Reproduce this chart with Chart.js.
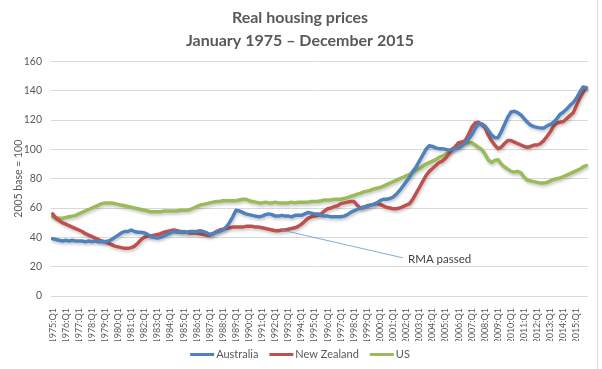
<!DOCTYPE html>
<html>
<head>
<meta charset="utf-8">
<script src="https://cdn.jsdelivr.net/npm/chart.js@4.4.1/dist/chart.umd.min.js"></script>
<style>
  html, body { margin: 0; padding: 0; background: #ffffff; }
  #wrap { position: relative; width: 602px; height: 369px; }
</style>
</head>
<body>
<div id="wrap"><canvas id="c"></canvas></div>
<script>
// ---- Data ----
const START_YEAR = 1975;
const END_YEAR = 2015;
const QUARTERS = ['Q1', 'Q2', 'Q3', 'Q4'];
const TITLE_LINES = ['Real housing prices', 'January 1975 \u2013 December 2015'];
const Y_TICKS = [0, 20, 40, 60, 80, 100, 120, 140, 160];
const SERIES_NAMES = ['Australia', 'New Zealand', 'US'];

const australia = [
  39, 38.5, 38, 37.5,     // 1975
  38, 37.5, 38, 37.5,     // 1976
  37.5, 37.5, 37, 37.5,   // 1977
  37, 37.5, 37, 37,       // 1978
  37, 37.5, 38.5, 40,     // 1979
  41.5, 43, 44, 44,       // 1980
  45, 44, 43.5, 43.5,     // 1981
  43, 42, 40.5, 40,       // 1982
  39.5, 40, 41, 42,       // 1983
  43, 44, 43.5, 43.5,     // 1984
  44, 43.5, 44, 44,       // 1985
  44, 44.5, 44, 43,       // 1986
  42, 42.5, 43.5, 44,     // 1987
  45, 47, 50, 54,         // 1988
  58.5, 58, 57, 56,       // 1989
  55.5, 55, 54.5, 54,     // 1990
  54.5, 55.5, 56, 55.5,   // 1991
  54.5, 54.5, 55, 54.5,   // 1992
  54.5, 54, 55, 55,       // 1993
  55, 56, 57, 56.5,       // 1994
  56, 56, 55, 54.5,       // 1995
  54.5, 54, 54, 54,       // 1996
  54, 54.5, 55.5, 57,     // 1997
  58, 59, 60, 60.5,       // 1998
  61, 62, 62.5, 63.5,     // 1999
  65, 66, 66, 66.5,       // 2000
  67.5, 69.5, 72, 75,     // 2001
  78, 81, 85, 88,         // 2002
  92, 96, 100, 102.5,     // 2003
  102, 101, 100.5, 100.5, // 2004
  100, 99.5, 100, 100.5,  // 2005
  101, 102.5, 104.5, 107, // 2006
  110, 114, 117.5, 117.5, // 2007
  116, 113, 110, 108,     // 2008
  108, 112, 117, 122,     // 2009
  125.5, 126, 125, 123.5, // 2010
  121, 118.5, 116.5, 115.5, // 2011
  115, 114.5, 114.5, 116, // 2012
  117, 118.5, 121, 124,   // 2013
  125.5, 127.5, 130, 132, // 2014
  135, 139, 142.5, 142    // 2015
];

const newZealand = [
  56, 53, 51.5, 50,       // 1975
  49, 48, 47, 46,         // 1976
  45, 44, 42.5, 41.5,     // 1977
  40.5, 39.5, 38.5, 37.5, // 1978
  37, 36, 35, 34,         // 1979
  33.5, 33, 32.5, 32.5,   // 1980
  33, 34, 36, 38.5,       // 1981
  40, 41, 41, 41.5,       // 1982
  42, 42.5, 43.5, 44,     // 1983
  44.5, 45, 44.5, 44,     // 1984
  43.5, 43.5, 43, 43,     // 1985
  43, 42.5, 42, 41.5,     // 1986
  41.5, 42.5, 44, 45,     // 1987
  45.5, 46, 46.5, 47,     // 1988
  47, 47, 47, 47.5,       // 1989
  47.5, 47.5, 47, 47,     // 1990
  46.5, 46, 45.5, 45,     // 1991
  44.5, 44.5, 45, 45,     // 1992
  45.5, 46, 46.5, 47.5,   // 1993
  49, 51, 53, 54,         // 1994
  54.5, 55, 56, 58,       // 1995
  59.5, 60, 61, 61.5,     // 1996
  63, 63.5, 64, 64.5,     // 1997
  64.5, 62, 60, 60.5,     // 1998
  61.5, 62, 62.5, 63,     // 1999
  62.5, 61.5, 60.5, 60,   // 2000
  59.5, 59.5, 60, 61,     // 2001
  62, 63, 66, 70,         // 2002
  74, 78, 82, 85,         // 2003
  87, 89, 91, 92,         // 2004
  94, 97, 100, 102,       // 2005
  104.5, 105, 106, 110,   // 2006
  115, 118, 118.5, 117,   // 2007
  115, 110, 106, 103,     // 2008
  100.5, 101.5, 104, 106, // 2009
  106, 105, 104, 103,     // 2010
  102, 101.5, 102, 103,   // 2011
  103, 104, 106, 109,     // 2012
  112, 116, 118, 118.5,   // 2013
  119, 121, 123, 125,     // 2014
  130, 135, 139, 142      // 2015
];

const us = [
  54, 53.5, 53, 53,       // 1975
  53.5, 54, 54.5, 55,     // 1976
  56, 57, 58, 59,         // 1977
  60, 61, 62, 63,         // 1978
  63.5, 63.5, 63.5, 63,   // 1979
  62.5, 62, 61.5, 61,     // 1980
  60.5, 60, 59.5, 59,     // 1981
  58.5, 58, 57.5, 57.5,   // 1982
  57.5, 57.5, 58, 58,     // 1983
  58, 58, 58, 58.5,       // 1984
  58.5, 58.5, 59, 60,     // 1985
  61, 62, 62.5, 63,       // 1986
  63.5, 64, 64.5, 64.5,   // 1987
  65, 65, 65, 65,         // 1988
  65, 65.5, 66, 66,       // 1989
  65, 64.5, 64, 63.5,     // 1990
  63.5, 64, 63.5, 63.5,   // 1991
  64, 63.5, 63.5, 63.5,   // 1992
  63.5, 64, 63.5, 64,     // 1993
  64, 64, 64, 64.5,       // 1994
  64.5, 64.5, 65, 65.5,   // 1995
  65.5, 65.5, 66, 66,     // 1996
  66, 66.5, 67, 68,       // 1997
  68.5, 69.5, 70, 71,     // 1998
  71.5, 72, 73, 73.5,     // 1999
  74, 75, 76, 77,         // 2000
  78, 79, 80, 81,         // 2001
  82, 83, 84.5, 86,       // 2002
  87, 88.5, 90, 91,       // 2003
  92, 93, 94.5, 95.5,     // 2004
  96.5, 98, 100, 101,     // 2005
  102, 103.5, 104.5, 104.5, // 2006
  104.5, 103, 101.5, 100, // 2007
  97, 93, 91, 92.5,       // 2008
  93, 90, 88, 86.5,       // 2009
  85, 84.5, 85, 84,       // 2010
  81, 79, 78.5, 78,       // 2011
  77.5, 77, 77, 77.5,     // 2012
  78.5, 79.5, 80, 80.5,   // 2013
  81.5, 82.5, 83.5, 84.5, // 2014
  85.5, 86.5, 88, 89      // 2015
];

// Annotation: "RMA passed", pointing at the NZ series
const ANNOT_TEXT = 'RMA passed';
const ANNOT_POINT_INDEX = 70;     // 1992:Q3
const ANNOT_END_INDEX = 107;      // category where the leader line ends
const ANNOT_END_VALUE = 26;       // value where the leader line ends

// ---- Build categories ----
const categories = [];
for (let y = START_YEAR; y <= END_YEAR; y++) {
  for (const q of QUARTERS) categories.push(y + ':' + q);
}

const FONT = 'Lato, "Open Sans", sans-serif';
const TXT = '#595959';
const COLORS = ['#4F81BD', '#C0504D', '#9BBB59'];
const seriesData = [australia, newZealand, us];

const shadowPlugin = {
  id: 'shadow',
  beforeDatasetDraw(chart) {
    const ctx = chart.ctx;
    ctx.save();
    ctx.shadowColor = 'rgba(0,0,0,0.22)';
    ctx.shadowBlur = 3;
    ctx.shadowOffsetX = 1;
    ctx.shadowOffsetY = 2;
  },
  afterDatasetDraw(chart) {
    chart.ctx.restore();
  }
};

const annotPlugin = {
  id: 'annot',
  afterDatasetsDraw(chart) {
    const ctx = chart.ctx;
    const xs = chart.scales.x, ys = chart.scales.y;
    const x1 = xs.getPixelForValue(ANNOT_POINT_INDEX);
    const y1 = ys.getPixelForValue(newZealand[ANNOT_POINT_INDEX]);
    const x2 = xs.getPixelForValue(ANNOT_END_INDEX);
    const y2 = ys.getPixelForValue(ANNOT_END_VALUE);
    ctx.save();
    ctx.strokeStyle = '#5B9BD5';
    ctx.lineWidth = 0.8;
    ctx.beginPath();
    ctx.moveTo(x1, y1);
    ctx.lineTo(x2, y2);
    ctx.stroke();
    ctx.fillStyle = '#404040';
    ctx.font = '11.5px ' + FONT;
    ctx.textBaseline = 'middle';
    ctx.textAlign = 'left';
    ctx.fillText(ANNOT_TEXT, x2 + 5, y2 + 1);
    ctx.restore();
  }
};

// Custom legend drawn at the bottom (line swatch close to the label, like Excel)
const legendPlugin = {
  id: 'xlLegend',
  afterDraw(chart) {
    const ctx = chart.ctx;
    ctx.save();
    ctx.font = '11px ' + FONT;
    const sw = 24, gapText = 2, gapItem = 11;
    const items = chart.data.datasets.map(ds => ({
      label: ds.label, color: ds.borderColor, w: sw + gapText + ctx.measureText(ds.label).width
    }));
    const total = items.reduce((s, it) => s + it.w, 0) + gapItem * (items.length - 1);
    let x = 300 - total / 2;
    const y = 354.5;
    ctx.textBaseline = 'middle';
    ctx.textAlign = 'left';
    items.forEach(it => {
      ctx.strokeStyle = it.color;
      ctx.lineWidth = 3;
      ctx.beginPath();
      ctx.moveTo(x, y);
      ctx.lineTo(x + sw, y);
      ctx.stroke();
      ctx.fillStyle = TXT;
      ctx.fillText(it.label, x + sw + gapText, y);
      x += it.w + gapItem;
    });
    // right chart border like Excel
    ctx.strokeStyle = '#d9d9d9';
    ctx.lineWidth = 1;
    ctx.beginPath();
    ctx.moveTo(597.5, 0);
    ctx.lineTo(597.5, chart.height);
    ctx.stroke();
    ctx.restore();
  }
};

new Chart(document.getElementById('c'), {
  type: 'line',
  data: {
    labels: categories,
    datasets: SERIES_NAMES.map((name, i) => ({
      label: name,
      data: seriesData[i],
      borderColor: COLORS[i],
      backgroundColor: COLORS[i],
      borderWidth: 3.5,
      pointRadius: 0,
      pointHoverRadius: 0,
      tension: 0,
      fill: false,
      borderJoinStyle: 'round',
      borderCapStyle: 'round'
    }))
  },
  options: {
    responsive: true,
    maintainAspectRatio: false,
    animation: false,
    devicePixelRatio: 1,
    layout: { padding: { left: 12, right: 14, top: 0, bottom: 28 } },
    plugins: {
      tooltip: { enabled: false },
      legend: { display: false },
      title: {
        display: true,
        text: TITLE_LINES,
        color: TXT,
        font: { family: FONT, size: 16, weight: 'bold', lineHeight: 1.45 },
        padding: { top: 6, bottom: 9 }
      }
    },
    scales: {
      x: {
        type: 'category',
        offset: true,
        grid: { display: false },
        border: { display: false },
        afterFit(scale) { scale.height = 45; },
        ticks: {
          autoSkip: false,
          maxRotation: 90,
          minRotation: 90,
          color: TXT,
          padding: 4,
          font: { family: FONT, size: 9 },
          callback(value, index) {
            return index % 4 === 0 ? this.getLabelForValue(value) : '';
          }
        }
      },
      y: {
        min: Y_TICKS[0],
        max: Y_TICKS[Y_TICKS.length - 1],
        afterBuildTicks(scale) { scale.ticks = Y_TICKS.map(v => ({ value: v })); },
        afterFit(scale) { scale.width = 39; },
        grid: { color: '#d9d9d9', drawTicks: false },
        border: { display: false },
        ticks: {
          color: TXT,
          padding: 9,
          font: { family: FONT, size: 10.5 }
        },
        title: {
          display: true,
          text: '2005 base = 100',
          color: TXT,
          font: { family: FONT, size: 10.5 },
          padding: { top: 0, bottom: 0 }
        }
      }
    }
  },
  plugins: [shadowPlugin, annotPlugin, legendPlugin]
});
</script>
</body>
</html>
